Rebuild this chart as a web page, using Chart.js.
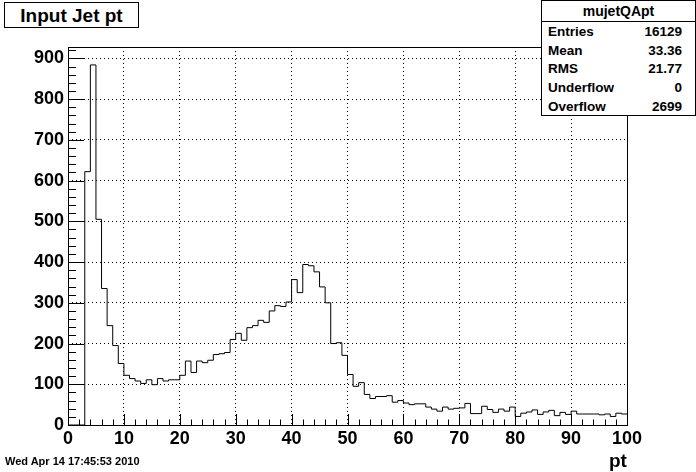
<!DOCTYPE html>
<html>
<head>
<meta charset="utf-8">
<script src="https://cdn.jsdelivr.net/npm/chart.js@4/dist/chart.umd.min.js"></script>
<style>
  html, body { margin: 0; padding: 0; background: #fff; }
  #wrap { position: relative; width: 696px; height: 472px; overflow: hidden; font-family: "Liberation Sans", Arial, sans-serif; font-weight: bold; color: #000; }
  canvas { position: absolute; left: 0; top: 0; }
  .abs { position: absolute; white-space: nowrap; }
  #titlebox { left: 4px; top: 2px; width: 133px; height: 24px; border: 1px solid #000; background: #fff; font-size: 19px; line-height: 25px; text-align: center; }
  #stats { left: 541px; top: 0px; width: 153px; height: 114px; border: 1px solid #000; background: #fff; }
  #stats .hdr { position: absolute; left: 0; top: 0; width: 153px; height: 20px; border-bottom: 1px solid #000; font-size: 14px; line-height: 20px; text-align: center; }
  #stats .row { position: absolute; left: 6px; width: 134px; font-size: 13.5px; line-height: 18px; }
  #stats .row span.v { position: absolute; right: 0; }
  #date { left: 5px; top: 455px; font-size: 11px; }
  #xtitle { left: 609px; top: 450px; font-size: 19px; }
</style>
</head>
<body>
<div id="wrap">
  <canvas id="c" width="696" height="472"></canvas>
  <div id="titlebox" class="abs">Input Jet pt</div>
  <div id="stats" class="abs">
    <div class="hdr">mujetQApt</div>
  </div>
  <div id="date" class="abs">Wed Apr 14 17:45:53 2010</div>
  <div id="xtitle" class="abs">pt</div>
</div>
<script>
// ---- data ----
const histName = "mujetQApt";
const xMin = 0, xMax = 100, nBins = 100;
const counts = [
  0, 0, 0, 622, 884, 505, 335, 244, 195, 151,
  122, 114, 108, 102, 111, 99, 114, 108, 111, 111,
  122, 157, 129, 157, 153, 159, 173, 175, 178, 210,
  225, 208, 239, 244, 257, 252, 280, 293, 291, 302,
  357, 325, 394, 391, 376, 339, 300, 200, 202, 171,
  124, 95, 104, 75, 65, 70, 70, 72, 56, 60,
  54, 50, 52, 52, 44, 39, 34, 44, 39, 41,
  42, 53, 28, 28, 46, 38, 31, 39, 34, 44,
  21, 29, 32, 37, 26, 32, 36, 23, 31, 26,
  34, 27, 27, 27, 27, 25, 27, 21, 29, 27
];
const statLabels = ["Entries", "Mean", "RMS", "Underflow", "Overflow"];
const statValues = ["16129", "33.36", "21.77", "0", "2699"];
const yMax = 928;
const xTickStep = 10, yTickStep = 100;

// stats rows
const statsEl = document.getElementById('stats');
statLabels.forEach((lab, i) => {
  const r = document.createElement('div');
  r.className = 'row';
  r.style.top = (22 + i * 18.7) + 'px';
  r.innerHTML = lab + '<span class="v">' + statValues[i] + '</span>';
  statsEl.appendChild(r);
});

// histogram outline points at bin low edges, plus the upper edge
const binWidth = (xMax - xMin) / nBins;
const pts = counts.map((v, i) => ({ x: xMin + i * binWidth, y: v }));
pts.push({ x: xMax, y: counts[counts.length - 1] });

const FONT = "'Liberation Sans', Arial, sans-serif";

const rootFrame = {
  id: 'rootFrame',
  afterDraw(chart) {
    const { ctx, chartArea: a, scales } = chart;
    const xs = scales.x, ys = scales.y;
    ctx.save();
    ctx.strokeStyle = '#000';
    ctx.lineWidth = 1;
    ctx.setLineDash([]);
    ctx.strokeRect(Math.round(a.left) + 0.5, Math.round(a.top) + 0.5,
                   Math.round(a.right - a.left), Math.round(a.bottom - a.top));
    ctx.beginPath();
    for (let v = xMin; v <= xMax + 1e-9; v += 2) {
      const px = Math.round(xs.getPixelForValue(v)) + 0.5;
      const len = (Math.abs(v % xTickStep) < 1e-9) ? 11 : 5.5;
      ctx.moveTo(px, a.bottom);
      ctx.lineTo(px, a.bottom - len);
    }
    for (let v = 0; v <= yMax; v += 20) {
      const py = Math.round(ys.getPixelForValue(v)) + 0.5;
      const len = (v % yTickStep === 0) ? 16 : 8;
      ctx.moveTo(a.left, py);
      ctx.lineTo(a.left + len, py);
    }
    ctx.stroke();
    ctx.restore();
  }
};

new Chart(document.getElementById('c'), {
  type: 'scatter',
  data: {
    datasets: [{
      label: histName,
      data: pts,
      showLine: true,
      stepped: true,
      borderColor: '#000',
      borderWidth: 1,
      pointRadius: 0,
      fill: false
    }]
  },
  options: {
    responsive: false,
    animation: false,
    events: [],
    layout: { padding: { left: 0, top: 47, right: 69, bottom: 0 } },
    plugins: { legend: { display: false }, tooltip: { enabled: false }, title: { display: false } },
    scales: {
      x: {
        type: 'linear', min: xMin, max: xMax,
        afterFit(s) { s.height = 47; },
        grid: { display: true, color: '#000', lineWidth: 1, drawTicks: false },
        border: { display: false, dash: [1, 3] },
        ticks: {
          stepSize: xTickStep, includeBounds: false, padding: 3, maxRotation: 0,
          color: '#000', font: { family: FONT, size: 18, weight: 'bold' },
          callback: v => String(v)
        }
      },
      y: {
        type: 'linear', min: 0, max: yMax,
        afterFit(s) { s.width = 68; },
        grid: { display: true, color: '#000', lineWidth: 1, drawTicks: false },
        border: { display: false, dash: [1, 3] },
        ticks: {
          stepSize: yTickStep, includeBounds: false, padding: 4,
          color: '#000', font: { family: FONT, size: 18, weight: 'bold' },
          callback: v => String(v)
        }
      }
    }
  },
  plugins: [rootFrame]
});
</script>
</body>
</html>
